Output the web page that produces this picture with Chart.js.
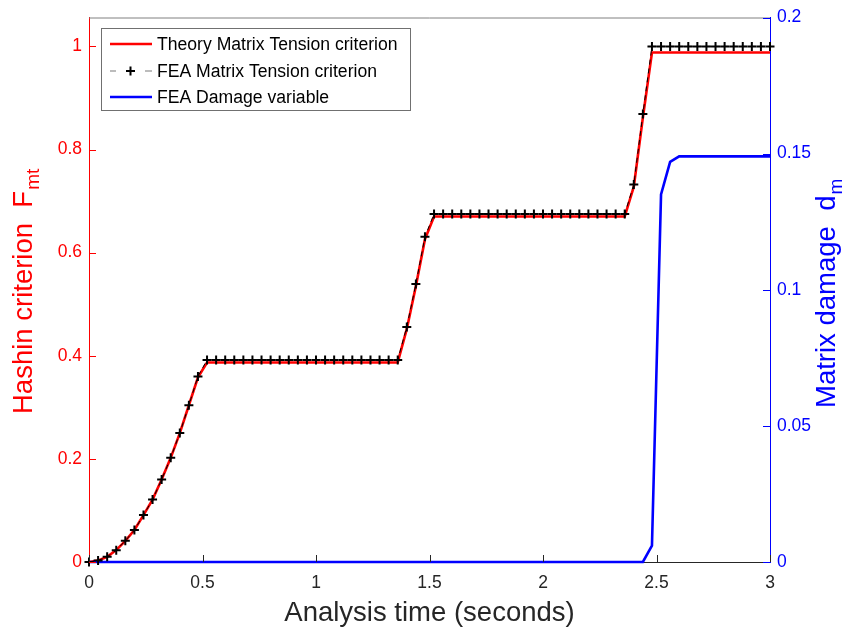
<!DOCTYPE html>
<html>
<head>
<meta charset="utf-8">
<script src="https://cdn.jsdelivr.net/npm/chart.js@4.4.0/dist/chart.umd.min.js"></script>
<style>
  body { margin: 0; background: #fff; }
  #wrap { width: 850px; height: 630px; }
</style>
</head>
<body>
<div id="wrap"><canvas id="hashinChart" width="850" height="630"></canvas></div>
<script>
// Analysis time (s), one FEA increment every 0.04 s
const timeS = [
  0, 0.04, 0.08, 0.12, 0.16, 0.2, 0.24, 0.28, 0.32, 0.36,
  0.4, 0.44, 0.48, 0.52, 0.56, 0.6, 0.64, 0.68, 0.72, 0.76,
  0.8, 0.84, 0.88, 0.92, 0.96, 1, 1.04, 1.08, 1.12, 1.16,
  1.2, 1.24, 1.28, 1.32, 1.36, 1.4, 1.44, 1.48, 1.52, 1.56,
  1.6, 1.64, 1.68, 1.72, 1.76, 1.8, 1.84, 1.88, 1.92, 1.96,
  2, 2.04, 2.08, 2.12, 2.16, 2.2, 2.24, 2.28, 2.32, 2.36,
  2.4, 2.44, 2.48, 2.52, 2.56, 2.6, 2.64, 2.68, 2.72, 2.76,
  2.8, 2.84, 2.88, 2.92, 2.96, 3
];

// Theory matrix tension criterion F_mt
const theoryFmt = [
  0, 0.003, 0.010, 0.023, 0.041, 0.062, 0.091, 0.121, 0.160, 0.202,
  0.250, 0.304, 0.358, 0.387, 0.387, 0.387, 0.387, 0.387, 0.387, 0.387,
  0.387, 0.387, 0.387, 0.387, 0.387, 0.387, 0.387, 0.387, 0.387, 0.387,
  0.387, 0.387, 0.387, 0.387, 0.387, 0.452, 0.535, 0.626, 0.670, 0.670,
  0.670, 0.670, 0.670, 0.670, 0.670, 0.670, 0.670, 0.670, 0.670, 0.670,
  0.670, 0.670, 0.670, 0.670, 0.670, 0.670, 0.670, 0.670, 0.670, 0.670,
  0.728, 0.862, 0.988, 0.988, 0.988, 0.988, 0.988, 0.988, 0.988, 0.988,
  0.988, 0.988, 0.988, 0.988, 0.988, 0.988
];

// FEA matrix tension criterion F_mt
const feaFmt = [
  0, 0.003, 0.010, 0.023, 0.041, 0.062, 0.091, 0.121, 0.160, 0.202,
  0.250, 0.304, 0.360, 0.392, 0.392, 0.392, 0.392, 0.392, 0.392, 0.392,
  0.392, 0.392, 0.392, 0.392, 0.392, 0.392, 0.392, 0.392, 0.392, 0.392,
  0.392, 0.392, 0.392, 0.392, 0.392, 0.456, 0.539, 0.631, 0.675, 0.675,
  0.675, 0.675, 0.675, 0.675, 0.675, 0.675, 0.675, 0.675, 0.675, 0.675,
  0.675, 0.675, 0.675, 0.675, 0.675, 0.675, 0.675, 0.675, 0.675, 0.675,
  0.732, 0.869, 1.0, 1.0, 1.0, 1.0, 1.0, 1.0, 1.0, 1.0,
  1.0, 1.0, 1.0, 1.0, 1.0, 1.0
];

// FEA matrix damage variable d_m (right axis)
const feaDamage = [
  0, 0, 0, 0, 0, 0, 0, 0, 0, 0,
  0, 0, 0, 0, 0, 0, 0, 0, 0, 0,
  0, 0, 0, 0, 0, 0, 0, 0, 0, 0,
  0, 0, 0, 0, 0, 0, 0, 0, 0, 0,
  0, 0, 0, 0, 0, 0, 0, 0, 0, 0,
  0, 0, 0, 0, 0, 0, 0, 0, 0, 0,
  0, 0, 0.006, 0.135, 0.147, 0.149, 0.149, 0.149, 0.149, 0.149,
  0.149, 0.149, 0.149, 0.149, 0.149, 0.149
];

const xTicks = [0, 0.5, 1, 1.5, 2, 2.5, 3];
const leftTicks = [0, 0.2, 0.4, 0.6, 0.8, 1];
const rightTicks = [0, 0.05, 0.1, 0.15, 0.2];

const seriesNames = ['Theory Matrix Tension criterion', 'FEA Matrix Tension criterion', 'FEA Damage variable'];

const FONT = "'Liberation Sans', Arial, Helvetica, sans-serif";
const RED = '#FF0000';
const BLUE = '#0000FF';
const DARK = '#262626';

function toPoints(ys) {
    return timeS.map((t, i) => ({ x: t, y: ys[i] }));
}

function fmt(v) {
    return String(parseFloat(v.toFixed(3)));
}

// inward ticks, top box line, legend and axis titles (MATLAB look)
const decorPlugin = {
    id: 'decor',
    afterDraw(chart) {
        const ctx = chart.ctx;
        const area = chart.chartArea;
        const sx = chart.scales.x, sy = chart.scales.y, sy1 = chart.scales.y1;
        const tl = 7;
        ctx.save();

        // top line of the box
        ctx.strokeStyle = '#808080';
        ctx.lineWidth = 1;
        ctx.beginPath();
        ctx.moveTo(area.left, area.top + 0.5);
        ctx.lineTo(area.right, area.top + 0.5);
        ctx.stroke();

        // x ticks
        ctx.strokeStyle = DARK;
        xTicks.forEach(v => {
            const px = Math.round(sx.getPixelForValue(v)) + 0.5;
            ctx.beginPath();
            ctx.moveTo(px, area.bottom);
            ctx.lineTo(px, area.bottom - tl);
            ctx.stroke();
        });
        // left ticks
        ctx.strokeStyle = RED;
        leftTicks.forEach(v => {
            const py = Math.round(sy.getPixelForValue(v)) + 0.5;
            ctx.beginPath();
            ctx.moveTo(area.left, py);
            ctx.lineTo(area.left + tl, py);
            ctx.stroke();
        });
        // right ticks
        ctx.strokeStyle = BLUE;
        rightTicks.forEach(v => {
            const py = Math.round(sy1.getPixelForValue(v)) + 0.5;
            ctx.beginPath();
            ctx.moveTo(area.right, py);
            ctx.lineTo(area.right - tl, py);
            ctx.stroke();
        });

        // axis titles
        ctx.textBaseline = 'middle';
        ctx.fillStyle = DARK;
        ctx.textAlign = 'center';
        ctx.font = '27.5px ' + FONT;
        ctx.fillText('Analysis time (seconds)', (area.left + area.right) / 2, 613);

        function rotatedTitle(main, sub, cx, startY, color) {
            ctx.save();
            ctx.translate(cx, startY);
            ctx.rotate(-Math.PI / 2);
            ctx.fillStyle = color;
            ctx.textAlign = 'left';
            ctx.font = '27.5px ' + FONT;
            ctx.fillText(main, 0, 0);
            const w = ctx.measureText(main).width;
            ctx.font = '19px ' + FONT;
            ctx.fillText(sub, w + 1, 10);
            ctx.restore();
        }
        rotatedTitle('Hashin criterion  F', 'mt', 24, 414, RED);
        rotatedTitle('Matrix damage  d', 'm', 827, 408, BLUE);

        // legend
        const lx = 101, ly = 28, lw = 309, lh = 82;
        ctx.fillStyle = '#fff';
        ctx.fillRect(lx, ly, lw, lh);
        ctx.strokeStyle = '#707070';
        ctx.lineWidth = 1;
        ctx.strokeRect(lx + 0.5, ly + 0.5, lw, lh);
        const rows = [44, 71, 97];
        ctx.font = '17.6px ' + FONT;
        ctx.textAlign = 'left';
        rows.forEach((ry, i) => {
            const ds = chart.data.datasets[i];
            if (i === 1) {
                ctx.strokeStyle = '#7a7a7a';
                ctx.lineWidth = 1.2;
                ctx.beginPath();
                ctx.moveTo(110, ry); ctx.lineTo(116, ry);
                ctx.moveTo(145, ry); ctx.lineTo(152, ry);
                ctx.stroke();
                ctx.strokeStyle = '#000';
                ctx.lineWidth = 2;
                ctx.beginPath();
                ctx.moveTo(126, ry); ctx.lineTo(135, ry);
                ctx.moveTo(130.5, ry - 4.5); ctx.lineTo(130.5, ry + 4.5);
                ctx.stroke();
            } else {
                ctx.strokeStyle = ds.borderColor;
                ctx.lineWidth = 2.6;
                ctx.beginPath();
                ctx.moveTo(110, ry);
                ctx.lineTo(152, ry);
                ctx.stroke();
            }
            ctx.fillStyle = '#000';
            ctx.fillText(seriesNames[i], 157, ry + 1);
        });

        ctx.restore();
    }
};

const ctx = document.getElementById('hashinChart');
const hashinChart = new Chart(ctx, {
    type: 'line',
    data: {
        datasets: [
            {
                label: seriesNames[0],
                data: toPoints(theoryFmt),
                yAxisID: 'y',
                borderColor: RED,
                borderWidth: 2.6,
                pointRadius: 0,
                clip: false,
                order: 3
            },
            {
                label: seriesNames[1],
                data: toPoints(feaFmt),
                yAxisID: 'y',
                borderColor: '#000',
                borderWidth: 1,
                borderDash: [5, 4],
                pointStyle: 'cross',
                pointRadius: 4.5,
                pointBorderWidth: 2,
                pointBorderColor: '#000',
                pointBackgroundColor: '#000',
                clip: false,
                order: 1
            },
            {
                label: seriesNames[2],
                data: toPoints(feaDamage),
                yAxisID: 'y1',
                borderColor: BLUE,
                borderWidth: 2.6,
                pointRadius: 0,
                clip: false,
                order: 2
            }
        ]
    },
    options: {
        responsive: false,
        animation: false,
        layout: { padding: { top: 15, left: 0, right: 0, bottom: 0 } },
        plugins: {
            legend: { display: false },
            tooltip: { enabled: false }
        },
        scales: {
            x: {
                type: 'linear',
                min: 0,
                max: 3,
                afterBuildTicks: s => { s.ticks = xTicks.map(v => ({ value: v })); },
                afterFit: s => { s.height = 68; },
                grid: { display: true, drawOnChartArea: false, drawTicks: false },
                border: { display: true, color: DARK, width: 1 },
                ticks: {
                    padding: 11,
                    color: DARK,
                    font: { family: FONT, size: 17.5 },
                    maxRotation: 0,
                    callback: v => fmt(v)
                }
            },
            y: {
                position: 'left',
                min: 0,
                max: 1.056,
                afterBuildTicks: s => { s.ticks = leftTicks.map(v => ({ value: v })); },
                afterFit: s => { s.width = 89; },
                grid: { display: true, drawOnChartArea: false, drawTicks: false },
                border: { display: true, color: RED, width: 1 },
                ticks: {
                    padding: 7,
                    color: RED,
                    font: { family: FONT, size: 17.5 },
                    callback: v => fmt(v)
                }
            },
            y1: {
                position: 'right',
                min: 0,
                max: 0.2,
                afterBuildTicks: s => { s.ticks = rightTicks.map(v => ({ value: v })); },
                afterFit: s => { s.width = 80; },
                grid: { display: true, drawOnChartArea: false, drawTicks: false },
                border: { display: true, color: BLUE, width: 1 },
                ticks: {
                    padding: 7,
                    color: BLUE,
                    font: { family: FONT, size: 17.5 },
                    callback: v => fmt(v)
                }
            }
        }
    },
    plugins: [decorPlugin]
});
</script>
</body>
</html>
